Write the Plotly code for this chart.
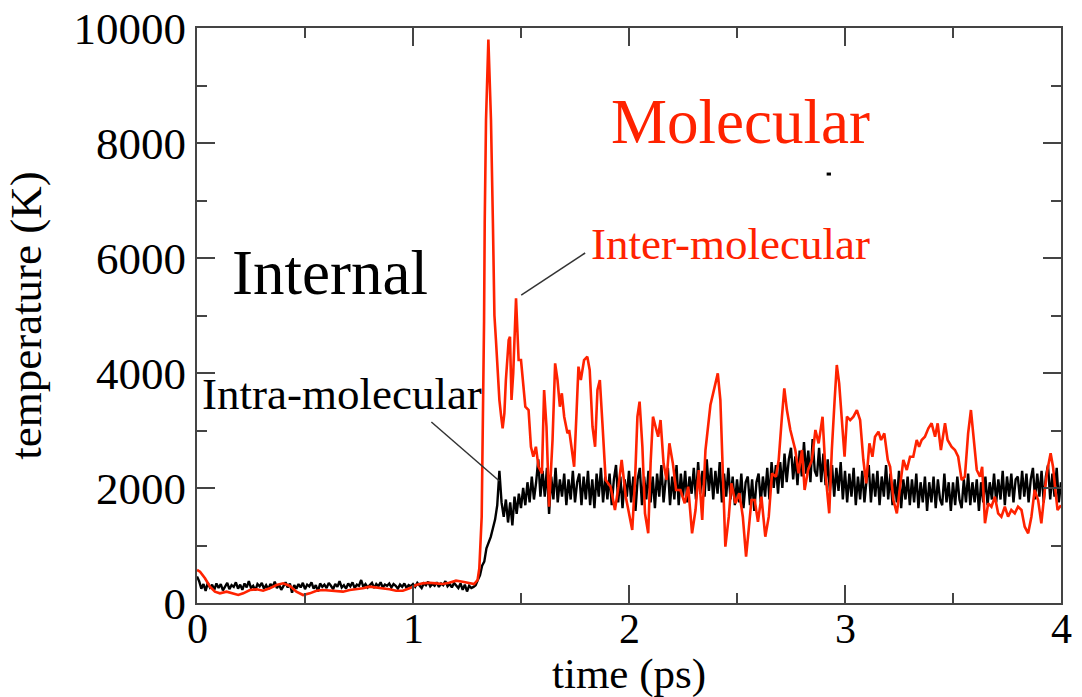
import plotly.graph_objects as go

# ---------------- data ----------------
# Inter-molecular (red) temperature
red_time = [0.000, 0.014, 0.037, 0.060, 0.083, 0.106, 0.137, 0.168, 0.191, 0.214,
            0.245, 0.276, 0.306, 0.337, 0.368, 0.399, 0.430, 0.460, 0.491, 0.522,
            0.553, 0.583, 0.614, 0.645, 0.676, 0.707, 0.737, 0.768, 0.799, 0.830,
            0.860, 0.891, 0.922, 0.953, 0.984, 1.014, 1.045, 1.076, 1.107, 1.137,
            1.168, 1.199, 1.230, 1.260, 1.283, 1.299, 1.307, 1.318, 1.325, 1.329,
            1.332, 1.338, 1.349, 1.361, 1.370, 1.377, 1.384, 1.392, 1.400, 1.408,
            1.415, 1.423, 1.430, 1.443, 1.449, 1.456, 1.464, 1.477, 1.489, 1.500,
            1.510, 1.520, 1.535, 1.546, 1.557, 1.569, 1.581, 1.597, 1.607, 1.618,
            1.630, 1.646, 1.658, 1.669, 1.680, 1.689, 1.700, 1.715, 1.723, 1.731,
            1.746, 1.757, 1.766, 1.777, 1.792, 1.807, 1.818, 1.831, 1.843, 1.854,
            1.865, 1.877, 1.892, 1.915, 1.935, 1.951, 1.966, 1.985, 2.000, 2.015,
            2.028, 2.039, 2.049, 2.062, 2.074, 2.089, 2.100, 2.111, 2.123, 2.135,
            2.146, 2.160, 2.174, 2.187, 2.203, 2.218, 2.238, 2.258, 2.274, 2.292,
            2.308, 2.323, 2.339, 2.354, 2.377, 2.393, 2.411, 2.423, 2.434, 2.446,
            2.462, 2.474, 2.493, 2.511, 2.527, 2.542, 2.554, 2.567, 2.582, 2.597,
            2.613, 2.631, 2.647, 2.662, 2.680, 2.693, 2.708, 2.719, 2.731, 2.747,
            2.770, 2.785, 2.801, 2.813, 2.829, 2.847, 2.863, 2.878, 2.896, 2.911,
            2.927, 2.939, 2.952, 2.962, 2.973, 2.985, 2.998, 3.009, 3.024, 3.039,
            3.055, 3.070, 3.085, 3.098, 3.113, 3.127, 3.139, 3.155, 3.167, 3.182,
            3.198, 3.209, 3.224, 3.240, 3.255, 3.270, 3.286, 3.301, 3.316, 3.332,
            3.343, 3.355, 3.370, 3.386, 3.401, 3.417, 3.429, 3.444, 3.463, 3.475,
            3.493, 3.509, 3.524, 3.540, 3.555, 3.570, 3.583, 3.596, 3.610, 3.625,
            3.635, 3.648, 3.663, 3.678, 3.694, 3.709, 3.724, 3.740, 3.755, 3.770,
            3.786, 3.801, 3.817, 3.832, 3.848, 3.863, 3.878, 3.894, 3.909, 3.925,
            3.937, 3.952, 3.963, 3.974, 3.984, 4.000]
red_temp = [574, 545, 429, 284, 197, 168, 197, 168, 139, 168,
            226, 238, 214, 255, 313, 342, 296, 197, 139, 168,
            214, 226, 214, 197, 197, 226, 238, 255, 284, 272,
            255, 238, 214, 214, 255, 313, 342, 353, 342, 330,
            353, 388, 370, 342, 330, 400, 600, 1500, 3500, 4900,
            6600, 8400, 9800, 8400, 6600, 5000, 4574, 3950, 3530, 3250,
            3038, 3299, 3878, 4574, 4631, 3530, 3994, 5299, 4226, 4226,
            3878, 3414, 3356, 2718, 2544, 2718, 2370, 2254, 3704, 3066,
            1675, 2835, 4168, 3878, 3414, 3647, 3240, 2951, 3009, 2777,
            2370, 3299, 4110, 3878, 4226, 4284, 4052, 3066, 2718, 3704,
            3878, 3125, 2139, 2023, 1617, 2023, 2487, 1849, 1560, 1270,
            2139, 3240, 3502, 2718, 1560, 1212, 2429, 3240, 3066, 2892,
            3182, 2429, 2139, 2777, 2429, 1965, 1965, 1734, 2023, 1212,
            1617, 2313, 1443, 2661, 3443, 3704, 3994, 3530, 2370, 979,
            1501, 2081, 1734, 1908, 1501, 805, 1270, 1791, 1791, 1414,
            1849, 1153, 1501, 2254, 2196, 2487, 3240, 3734, 3356, 3009,
            2661, 2254, 2661, 1965, 2313, 2487, 3009, 2777, 3240, 2196,
            1560, 2661, 3530, 4139, 3821, 3125, 2544, 3240, 3182, 3240,
            3356, 3182, 2487, 2081, 2777, 2544, 2892, 2979, 2835, 2951,
            2487, 2370, 1791, 1560, 2081, 2487, 2313, 2544, 2544, 2835,
            2718, 2835, 2892, 3038, 3125, 2892, 3125, 2661, 3125, 2835,
            2718, 2661, 2544, 2139, 2196, 2951, 3356, 2835, 2313, 2196,
            2370, 1386, 1734, 1675, 1849, 1560, 1501, 1675, 1501, 1617,
            1560, 1675, 1617, 1327, 1212, 1501, 1965, 1791, 1386, 1965,
            2313, 2603, 2370, 1965, 1617, 1700]

# Intra-molecular (black) temperature, one reading every 0.01 ps from 0 to 4 ps
black_t0 = 0.0
black_dt = 0.01
black_temp = [
    460, 380, 250, 330, 210, 350, 270, 320, 230, 340,
    260, 330, 220, 300, 350, 240, 310, 280, 360, 250,
    320, 230, 340, 270, 380, 260, 300, 220, 330, 290,
    350, 250, 310, 240, 330, 280, 370, 260, 320, 230,
    300, 360, 270, 340, 180, 310, 250, 330, 270, 350,
    240, 320, 290, 360, 250, 310, 200, 340, 280, 320,
    260, 350, 300, 240, 330, 280, 380, 270, 310, 250,
    340, 290, 360, 260, 320, 300, 400, 280, 330, 270,
    310, 350, 260, 330, 290, 360, 270, 320, 300, 340,
    270, 330, 300, 250, 320, 280, 340, 260, 310, 290,
    330, 280, 350, 300, 260, 340, 310, 370, 290, 330,
    300, 360, 280, 340, 310, 380, 290, 330, 270, 350,
    310, 260, 340, 230, 320, 200, 300, 260, 280, 310,
    400, 480, 650, 720, 950, 1050, 1150, 1300, 1450, 1700,
    2300, 1750, 1500, 1800, 1400, 1750, 1350, 1850, 1550, 1900,
    1650, 2000, 1700, 2100, 1750, 2200, 1800, 2100, 2500, 1850,
    2300, 1850, 2350, 1550, 2200, 1800, 2350, 1750, 2150, 1850,
    2250, 1700, 2150, 1800, 2300, 1750, 2100, 2250, 1700, 2200,
    1800, 2300, 1700, 2150, 1650, 2250, 1850, 2350, 1750, 2200,
    1800, 2250, 1700, 2150, 2400, 1750, 2200, 1650, 2150, 1850,
    2300, 1750, 2200, 1600, 2150, 2350, 1700, 2200, 1800, 2300,
    1750, 2200, 1650, 2250, 1850, 2400, 1750, 2150, 2350, 1700,
    2200, 1800, 2400, 1700, 2250, 1850, 2300, 1750, 2200, 1900,
    2350, 1800, 2450, 1900, 2300, 1850, 2500, 1950, 2350, 1800,
    2300, 1900, 2450, 1750, 2250, 1850, 2350, 1800, 2200, 1700,
    2150, 1750, 2250, 1650, 2100, 2200, 1700, 2150, 1600, 2100,
    2250, 1750, 2200, 1850, 2350, 1800, 2450, 2000, 2400, 1900,
    2450, 2000, 2600, 2100, 2500, 2700, 2150, 2550, 2050, 2650,
    2200, 2800, 2250, 2650, 2100, 2850, 2300, 2200, 2700, 2100,
    2600, 2050, 2500, 1950, 2400, 1850, 2350, 1950, 2450, 1800,
    2300, 1750, 2250, 1850, 2350, 1700, 2200, 1800, 2300, 1750,
    2150, 2400, 1750, 2250, 1850, 2300, 1700, 2200, 1850, 2400,
    1800, 2250, 1700, 2150, 1750, 2300, 1650, 2150, 1800, 2200,
    1700, 2150, 1750, 2250, 1650, 2100, 1750, 2200, 1600, 2100,
    1750, 2200, 1650, 2150, 1800, 1700, 2250, 1750, 2100, 1600,
    2100, 1700, 2200, 1800, 1650, 2150, 1750, 2250, 1700, 2100,
    1750, 2150, 1600, 2100, 1750, 2200, 1700, 2100, 1800, 2250,
    1750, 2150, 1800, 2300, 1700, 2200, 1850, 2250, 1750, 2150,
    2200, 1800, 2300, 1850, 2250, 1750, 2150, 2350, 1800, 2250,
    1850, 2300, 1750, 2200, 2400, 1800, 2250, 1850, 2350, 1750, 2100]
black_time = [round(black_t0 + i * black_dt, 3) for i in range(len(black_temp))]

x_ticks = [0, 1, 2, 3, 4]
y_ticks = [0, 2000, 4000, 6000, 8000, 10000]

RED = "#ff2200"
FONT = "Liberation Serif"

fig = go.Figure()
fig.add_trace(go.Scatter(x=black_time, y=black_temp, mode="lines",
                         line=dict(color="black", width=2.4), name="Intra-molecular",
                         showlegend=False))
fig.add_trace(go.Scatter(x=red_time, y=red_temp, mode="lines",
                         line=dict(color=RED, width=2.6), name="Inter-molecular",
                         showlegend=False))

axis_common = dict(
    showgrid=False, zeroline=False, showline=True, linecolor="#444", linewidth=2,
    mirror="allticks", ticks="inside", ticklen=18, tickwidth=2, tickcolor="#444",
)
fig.update_xaxes(range=[0, 4], tickvals=x_ticks, showticklabels=False,
                 minor=dict(dtick=0.5, ticks="inside", ticklen=10, tickwidth=2, tickcolor="#444"),
                 **axis_common)
fig.update_yaxes(range=[0, 10000], tickvals=y_ticks, ticktext=[str(v) for v in y_ticks],
                 tickfont=dict(family=FONT, size=45, color="black"),
                 minor=dict(dtick=1000, ticks="inside", ticklen=10, tickwidth=2, tickcolor="#444"),
                 title=dict(text="temperature (K)", font=dict(family=FONT, size=45, color="black"),
                            standoff=18),
                 **axis_common)

# x tick labels, placed at the axis tick positions
for v in x_ticks:
    fig.add_annotation(text=str(v), x=v, y=0, xref="x", yref="paper",
                       xanchor="center", yanchor="top", yshift=-1, showarrow=False,
                       font=dict(family=FONT, size=42, color="black"))
# x axis title
fig.add_annotation(text="time (ps)", x=0.5, y=0, xref="paper", yref="paper",
                   xanchor="center", yanchor="top", yshift=-45, showarrow=False,
                   font=dict(family=FONT, size=43, color="black"))

annots = [
    dict(text="Molecular", x=1.908, y=8365, size=63, color=RED),
    dict(text="Internal", x=0.152, y=5739, size=63, color="black"),
    dict(text="Inter-molecular", x=1.815, y=6243, size=45, color=RED),
    dict(text="Intra-molecular", x=0.014, y=3635, size=45, color="black"),
]
for a in annots:
    fig.add_annotation(text=a["text"], x=a["x"], y=a["y"], xref="x", yref="y",
                       xanchor="left", yanchor="middle", showarrow=False,
                       font=dict(family=FONT, size=a["size"], color=a["color"]))

# leader lines
fig.add_shape(type="line", x0=1.501, y0=5356, x1=1.797, y1=6087, xref="x", yref="y",
              line=dict(color="#333", width=1.5))
fig.add_shape(type="line", x0=1.085, y0=3148, x1=1.400, y1=2122, xref="x", yref="y",
              line=dict(color="#333", width=1.5))
# small stray mark
fig.add_shape(type="line", x0=2.915, y0=7460, x1=2.935, y1=7460, xref="x", yref="y",
              line=dict(color="black", width=3))

fig.update_layout(
    width=1082, height=697,
    margin=dict(l=197, r=21, t=28, b=94, autoexpand=False),
    plot_bgcolor="white", paper_bgcolor="white",
    showlegend=False,
)

fig.write_html("out.html")
